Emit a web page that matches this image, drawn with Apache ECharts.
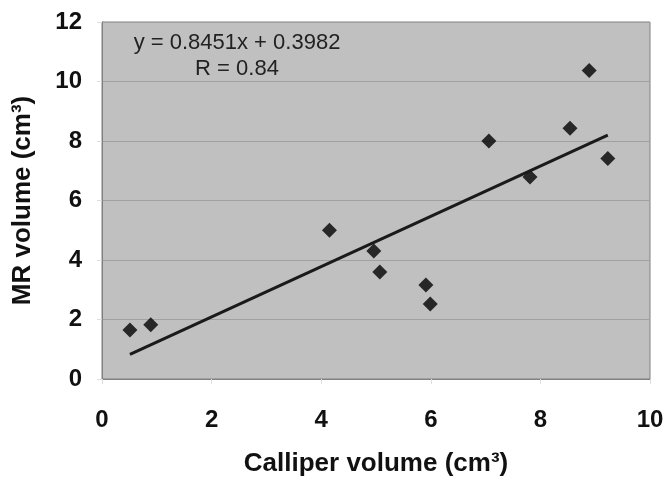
<!DOCTYPE html>
<html>
<head>
<meta charset="utf-8">
<script src="https://cdn.jsdelivr.net/npm/echarts@6/dist/echarts.min.js"></script>
<style>
  html, body { margin: 0; padding: 0; background: #fff; }
  #chart { width: 667px; height: 477px; }
</style>
</head>
<body>
<div id="chart"></div>
<script>
// calliper vs MR volume
var calliper = [0.51, 0.89, 4.15, 4.96, 5.07, 5.91, 5.99, 7.06, 7.81, 8.54, 8.89, 9.23];
var mrVolume = [1.65, 1.82, 5.0, 4.30, 3.6, 3.16, 2.52, 8.0, 6.79, 8.43, 10.37, 7.41];
var slope = 0.8451, intercept = 0.3982;
var fitLabel = ['y = 0.8451x + 0.3982', 'R = 0.84'];

var points = calliper.map(function (x, i) { return [x, mrVolume[i]]; });
var xMin = Math.min.apply(null, calliper), xMax = Math.max.apply(null, calliper);
var fitLine = [[xMin, slope * xMin + intercept], [xMax, slope * xMax + intercept]];

var chart = echarts.init(document.getElementById('chart'));
var font = 'Liberation Sans, Arial, sans-serif';
chart.setOption({
    animation: false,
    grid: {
        left: 102, right: 17, top: 22, bottom: 98, outerBoundsMode: 'none',
        show: true, backgroundColor: '#c0c0c0', borderColor: '#808080', borderWidth: 1
    },
    xAxis: {
        type: 'value', min: 0, max: 10, interval: 2,
        name: 'Calliper volume (cm³)', nameLocation: 'middle', nameGap: 72,
        nameTextStyle: { fontFamily: font, fontWeight: 'bold', fontSize: 26, color: '#111' },
        axisLine: { show: true, lineStyle: { color: '#808080' } },
        axisTick: { show: true, length: 5, lineStyle: { color: '#ddd' } },
        axisLabel: { margin: 29, fontFamily: font, fontWeight: 'bold', fontSize: 24, color: '#111' },
        splitLine: { show: false }
    },
    yAxis: {
        type: 'value', min: 0, max: 12, interval: 2,
        name: 'MR volume (cm³)', nameLocation: 'middle', nameGap: 66,
        nameTextStyle: { fontFamily: font, fontWeight: 'bold', fontSize: 26, color: '#111' },
        axisLine: { show: true, lineStyle: { color: '#808080' } },
        axisTick: { show: true, length: 5, lineStyle: { color: '#ddd' } },
        axisLabel: { margin: 20, fontFamily: font, fontWeight: 'bold', fontSize: 24, color: '#111' },
        splitLine: { show: true, lineStyle: { color: '#a0a0a0', width: 1 } }
    },
    graphic: [{
        type: 'text', x: 237, y: 30,
        style: { text: fitLabel.join('\n'), fontFamily: font, fontSize: 22, lineHeight: 26, fill: '#222', textAlign: 'center', align: 'center' }
    }],
    series: [{
        type: 'line', data: fitLine, symbol: 'none', silent: true,
        lineStyle: { color: '#1a1a1a', width: 3 }
    }, {
        type: 'scatter', data: points, symbol: 'diamond', symbolSize: 15,
        itemStyle: { color: '#000' }
    }]
});
</script>
</body>
</html>
